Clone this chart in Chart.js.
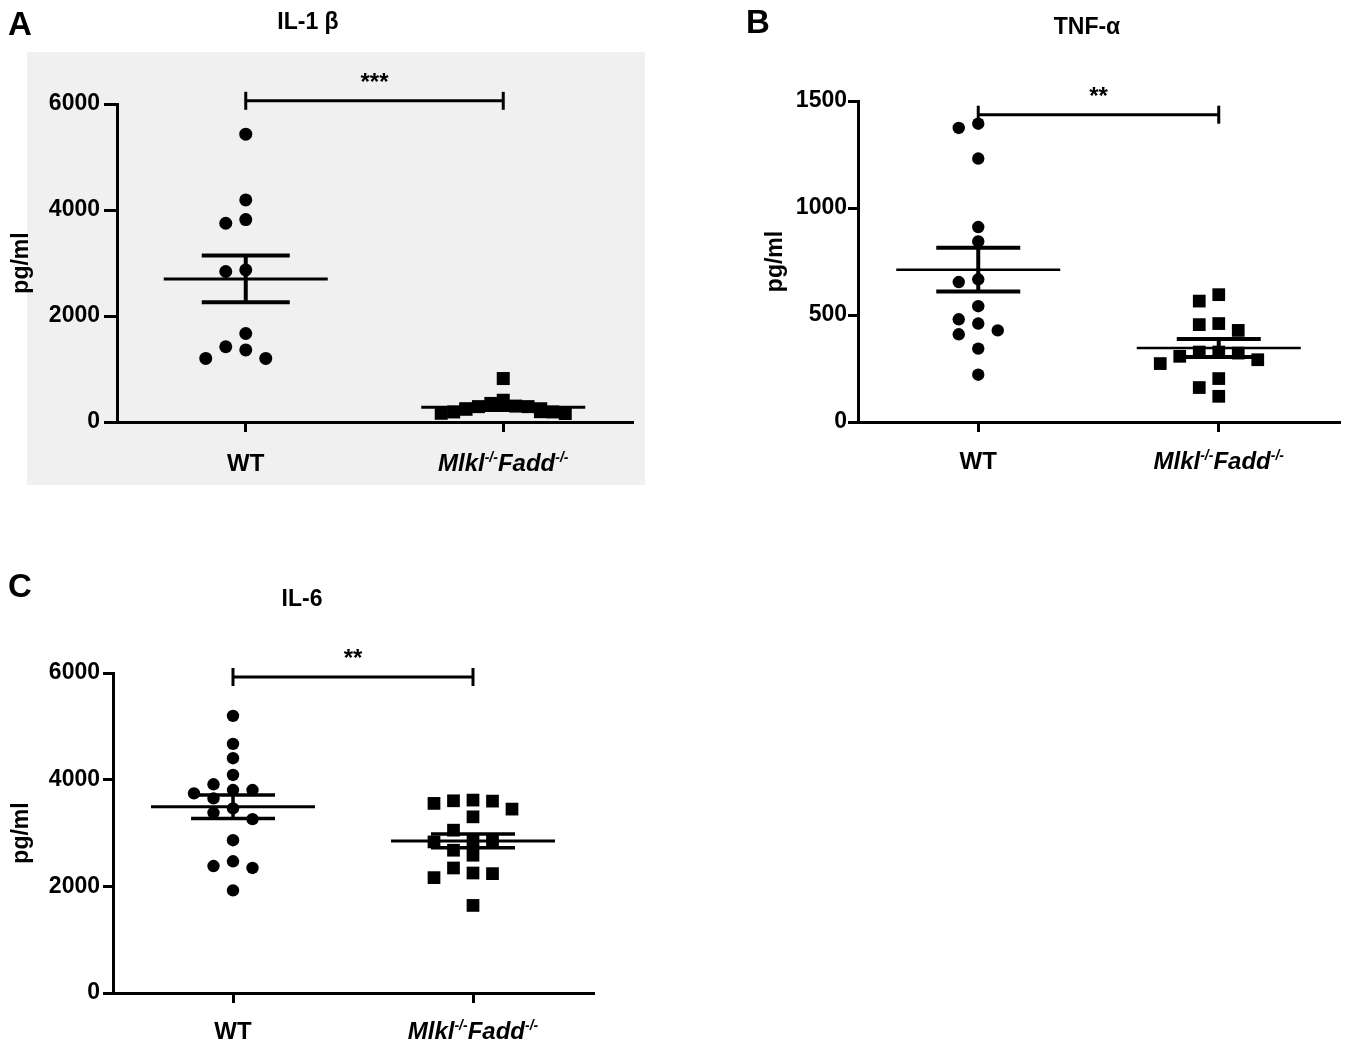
<!DOCTYPE html>
<html>
<head>
<meta charset="utf-8">
<script src="https://cdn.jsdelivr.net/npm/chart.js@4.4.1/dist/chart.umd.min.js"></script>
<style>
  html, body { margin: 0; padding: 0; background: #fff; }
  body { width: 1351px; height: 1048px; position: relative; overflow: hidden; }
  canvas { position: absolute; }
</style>
</head>
<body>
<canvas id="chartA" width="660" height="500" style="left:0;top:0"></canvas>
<canvas id="chartB" width="671" height="500" style="left:680px;top:0"></canvas>
<canvas id="chartC" width="660" height="488" style="left:0;top:560px"></canvas>
<script>
const groups = ['WT', 'Mlkl-/-Fadd-/-'];
const panelLetters = ['A', 'B', 'C'];
const panelTitles = ['IL-1 β', 'TNF-α', 'IL-6'];
const yTitle = 'pg/ml';
const significance = ['***', '**', '**'];

// A: IL-1β, pg/ml
const il1bWT = [5430, 4190, 3820, 3750, 2870, 2840, 1670, 1420, 1360, 1200, 1200];
const il1bKO = [820, 410, 350, 300, 290, 290, 240, 195, 190, 190, 165, 160];
const il1bMean = [2700, 280];
const il1bSem = [440, 55];
const il1bTicks = [0, 2000, 4000, 6000];
const il1bBracket = 6060;

// B: TNF-α, pg/ml
const tnfWT = [1394, 1374, 1231, 911, 844, 667, 654, 541, 480, 460, 428, 410, 343, 221];
const tnfKO = [595, 565, 460, 455, 428, 327, 327, 322, 307, 291, 273, 203, 161, 120];
const tnfMean = [712, 346];
const tnfSem = [102, 42];
const tnfTicks = [0, 500, 1000, 1500];
const tnfBracket = 1436;

// C: IL-6, pg/ml
const il6WT = [5197, 4671, 4402, 4088, 3913, 3805, 3805, 3743, 3649, 3461, 3378, 3260, 2865, 2470, 2381, 2344, 1924];
const il6KO = [3617, 3604, 3598, 3555, 3448, 3303, 3053, 2865, 2865, 2833, 2677, 2583, 2344, 2250, 2238, 2163, 1642];
const il6Mean = [3491, 2852];
const il6Sem = [220, 130];
const il6Ticks = [0, 2000, 4000, 6000];
const il6Bracket = 5925;

const FONT = 'Arial, "Liberation Sans", Helvetica, sans-serif';

function line(ctx, x1, y1, x2, y2) {
    ctx.beginPath();
    ctx.moveTo(x1, y1);
    ctx.lineTo(x2, y2);
    ctx.stroke();
}

// group label with superscript genotype marks
function drawGroupLabel(ctx, text, cx, baseY, italic) {
    const big = `${italic ? 'italic ' : ''}bold 24px ${FONT}`;
    const small = `${italic ? 'italic ' : ''}bold 14px ${FONT}`;
    const parts = text.split(/(-\/-)/).filter(Boolean);
    let w = 0;
    parts.forEach(s => { ctx.font = s === '-/-' ? small : big; w += ctx.measureText(s).width; });
    let x = cx - w / 2;
    ctx.textAlign = 'left';
    ctx.textBaseline = 'alphabetic';
    parts.forEach(s => {
        const sup = s === '-/-';
        ctx.font = sup ? small : big;
        ctx.fillText(s, x, sup ? baseY - 9 : baseY);
        x += ctx.measureText(s).width;
    });
}

const dotPlotPlugin = {
    id: 'dotPlot',
    beforeDraw(chart, args, o) {
        if (!o.shade) return;
        const ctx = chart.ctx;
        ctx.save();
        ctx.fillStyle = o.shade.color;
        ctx.fillRect(o.shade.x, o.shade.y, o.shade.w, o.shade.h);
        ctx.restore();
    },
    afterDatasetsDraw(chart, args, o) {
        const { ctx, scales: { x, y } } = chart;
        ctx.save();
        ctx.strokeStyle = '#000';
        ctx.fillStyle = '#000';
        o.means.forEach((m, i) => {
            const cx = x.getPixelForValue(i + 1);
            const ym = y.getPixelForValue(m);
            const yh = y.getPixelForValue(m + o.sems[i]);
            const yl = y.getPixelForValue(m - o.sems[i]);
            ctx.lineWidth = o.meanWidth;
            line(ctx, cx - o.meanHalf, ym, cx + o.meanHalf, ym);
            ctx.lineWidth = o.semWidth;
            line(ctx, cx, yh, cx, yl);
            line(ctx, cx - o.capHalf, yh, cx + o.capHalf, yh);
            line(ctx, cx - o.capHalf, yl, cx + o.capHalf, yl);
        });

        // significance bracket
        const x1 = x.getPixelForValue(1), x2 = x.getPixelForValue(2);
        const yb = y.getPixelForValue(o.bracket);
        ctx.lineWidth = 3;
        line(ctx, x1, yb, x2, yb);
        line(ctx, x1, yb - 9, x1, yb + 9);
        line(ctx, x2, yb - 9, x2, yb + 9);
        ctx.font = `bold 24px ${FONT}`;
        ctx.textAlign = 'center';
        ctx.textBaseline = 'alphabetic';
        ctx.fillText(o.stars, (x1 + x2) / 2, yb - 11);
        ctx.restore();
    },
    afterDraw(chart, args, o) {
        const { ctx, scales: { x } } = chart;
        ctx.save();
        ctx.fillStyle = '#000';
        groups.forEach((g, i) => drawGroupLabel(ctx, g, x.getPixelForValue(i + 1), o.labelY, i > 0));
        ctx.textAlign = 'center';
        ctx.textBaseline = 'middle';
        ctx.font = `bold 23px ${FONT}`;
        ctx.fillText(o.title, o.titleX, o.titleY);
        ctx.font = `bold 33px ${FONT}`;
        ctx.fillText(o.letter, o.letterX, o.letterY);
        ctx.restore();
    }
};

// spread points sideways so they do not overlap (dot-plot layout)
function swarm(chart, p) {
    const xs = chart.scales.x, ys = chart.scales.y;
    const unit = xs.getPixelForValue(2) - xs.getPixelForValue(1);
    chart.data.datasets.forEach((ds, gi) => {
        const vals = p.series[gi];
        const size = gi === 0 ? 2 * p.dot : 1.414 * p.square;
        const order = vals.map((v, i) => i).sort((a, b) => vals[b] - vals[a]);
        const placed = [], slot = [];
        order.forEach(i => {
            const py = ys.getPixelForValue(vals[i]);
            for (let n = 0; ; n++) {
                const k = n % 2 ? -(n + 1) / 2 : n / 2;
                if (!placed.some(q => q.k === k && Math.abs(q.py - py) < size + 1)) {
                    placed.push({ k, py });
                    slot[i] = k;
                    break;
                }
            }
        });
        const widest = Math.max(1, ...slot.map(Math.abs));
        const step = Math.min(p.step, p.spread / widest);
        ds.data = vals.map((v, i) => ({ x: gi + 1 + slot[i] * step / unit, y: v }));
    });
    chart.update('none');
}

function dotPanel(canvasId, p) {
    const chart = new Chart(document.getElementById(canvasId), {
        type: 'scatter',
        data: {
            datasets: p.series.map((vals, i) => ({
                data: vals.map(v => ({ x: i + 1, y: v })),
                pointStyle: i === 0 ? 'circle' : 'rect',
                pointRadius: i === 0 ? p.dot : p.square,
                pointHoverRadius: i === 0 ? p.dot : p.square,
                backgroundColor: '#000',
                borderWidth: 0,
                clip: false
            }))
        },
        options: {
            responsive: false,
            animation: false,
            events: [],
            layout: { padding: p.padding },
            plugins: {
                legend: { display: false },
                tooltip: { enabled: false },
                dotPlot: {
                    means: p.means, sems: p.sems, bracket: p.bracket, stars: p.stars,
                    meanHalf: 82, capHalf: p.capHalf, meanWidth: p.meanWidth, semWidth: p.semWidth,
                    labelY: p.labelY, title: p.title, titleX: p.titleX, titleY: p.titleY,
                    letter: p.letter, letterX: p.letterX, letterY: p.letterY, shade: p.shade
                }
            },
            scales: {
                x: {
                    type: 'linear', min: 0.5, max: 2.5,
                    afterBuildTicks: s => { s.ticks = groups.map((g, i) => ({ value: i + 1 })); },
                    afterFit: s => { s.height = p.xHeight; },
                    ticks: { display: false },
                    grid: { drawOnChartArea: false, drawTicks: true, tickLength: 10, color: '#000', lineWidth: 3 },
                    border: { color: '#000', width: 3 }
                },
                y: {
                    min: p.ticks[0], max: p.ticks[p.ticks.length - 1],
                    afterBuildTicks: s => { s.ticks = p.ticks.map(v => ({ value: v })); },
                    afterFit: s => { s.width = p.yWidth; },
                    ticks: {
                        color: '#000', padding: p.tickPad, callback: v => String(v),
                        font: { family: FONT, size: 23, weight: 'bold' }
                    },
                    grid: { drawOnChartArea: false, drawTicks: true, tickLength: p.tickLen, color: '#000', lineWidth: 3 },
                    border: { color: '#000', width: 3 },
                    title: {
                        display: true, text: yTitle, color: '#000', padding: { top: 8, bottom: 0 },
                        font: { family: FONT, size: 23, weight: 'bold' }
                    }
                }
            }
        },
        plugins: [dotPlotPlugin]
    });
    swarm(chart, p);
    return chart;
}

dotPanel('chartA', {
    series: [il1bWT, il1bKO], means: il1bMean, sems: il1bSem, ticks: il1bTicks,
    bracket: il1bBracket, stars: significance[0], title: panelTitles[0], letter: panelLetters[0],
    padding: { left: 0, top: 104, right: 28, bottom: 18 }, yWidth: 117, xHeight: 60,
    tickLen: 13, tickPad: 4, dot: 6.5, square: 9.2, step: 20, spread: 62,
    capHalf: 44, meanWidth: 3, semWidth: 4, labelY: 471,
    titleX: 308, titleY: 23, letterX: 20, letterY: 26,
    shade: { x: 27, y: 52, w: 618, h: 433, color: '#f0f0f0' }
});

dotPanel('chartB', {
    series: [tnfWT, tnfKO], means: tnfMean, sems: tnfSem, ticks: tnfTicks,
    bracket: tnfBracket, stars: significance[1], title: panelTitles[1], letter: panelLetters[1],
    padding: { left: 74, top: 101, right: 12, bottom: 18 }, yWidth: 104, xHeight: 60,
    tickLen: 10, tickPad: 1, dot: 6.2, square: 9, step: 19.5, spread: 62,
    capHalf: 42, meanWidth: 2.5, semWidth: 4, labelY: 469,
    titleX: 407, titleY: 28, letterX: 78, letterY: 24
});

dotPanel('chartC', {
    series: [il6WT, il6KO], means: il6Mean, sems: il6Sem, ticks: il6Ticks,
    bracket: il6Bracket, stars: significance[2], title: panelTitles[2], letter: panelLetters[2],
    padding: { left: 0, top: 113, right: 67, bottom: 11 }, yWidth: 113, xHeight: 44,
    tickLen: 10, tickPad: 3, dot: 6.2, square: 9, step: 19.5, spread: 62,
    capHalf: 42, meanWidth: 3, semWidth: 3.5, labelY: 479,
    titleX: 302, titleY: 40, letterX: 20, letterY: 28
});
</script>
</body>
</html>
